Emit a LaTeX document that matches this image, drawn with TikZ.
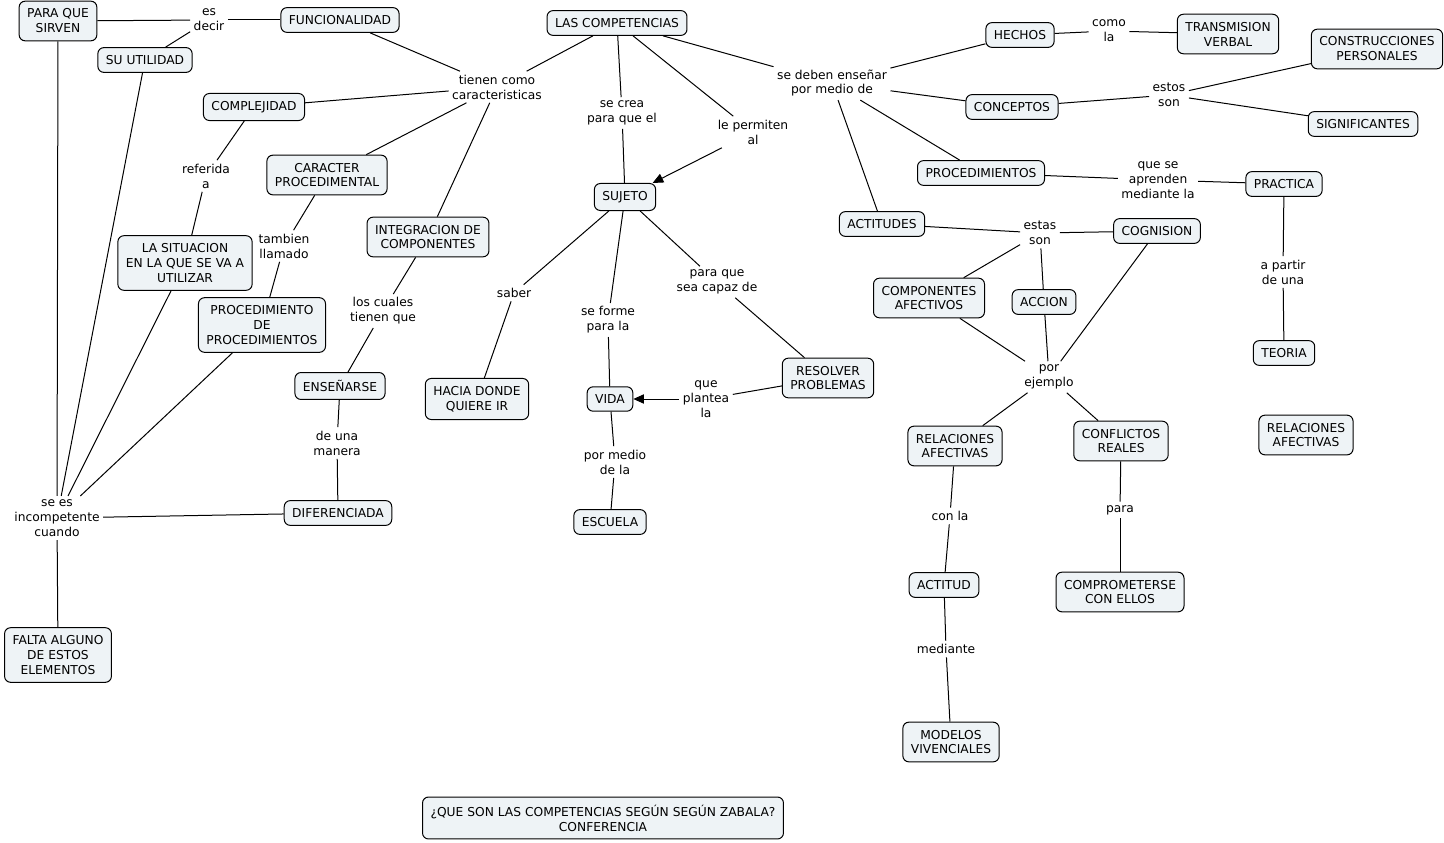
\documentclass[tikz,border=0pt]{standalone}
\usepackage{fontspec}
\setmainfont{DejaVu Sans}
\usetikzlibrary{arrows.meta,positioning}
\definecolor{boxfill}{RGB}{238,243,246}
\tikzset{%
   box/.style={draw, rounded corners=4.5pt, fill=boxfill, align=center, inner xsep=6pt, inner ysep=5.8pt, line width=.75pt},
   lbl/.style={align=center, inner sep=2.5pt},
   every edge/.style={draw, line width=.75pt},
   tip/.style={-{Triangle[length=8pt,width=7pt]}},
}
\begin{document}
\begin{tikzpicture}[x=.75pt, y=-.75pt, font=\fontsize{9.2}{11.2}\selectfont]
   \useasboundingbox (0,0) rectangle (1444,842);
   % left side
   \node[box] (sirven) at (58,21) {PARA QUE\\SIRVEN};
   \node[lbl] (esdecir) at (209,20) {es\\decir};
   \node[box] (func) at (340,20) {FUNCIONALIDAD};
   \node[box] (util) at (145,60) {SU UTILIDAD};
   \node[box] (comp) at (617,23) {LAS COMPETENCIAS};
   \node[lbl] (tienen) at (497,87) {tienen como\\caracteristicas};
   \node[box] (complej) at (254,107) {COMPLEJIDAD};
   \node[box] (caract) at (327,175) {CARACTER\\PROCEDIMENTAL};
   \node[box] (integ) at (428,237) {INTEGRACION DE\\COMPONENTES};
   \node[lbl] (referida) at (206,176) {referida\\a};
   \node[box] (situ) at (185,263) {LA SITUACION\\EN LA QUE SE VA A\\UTILIZAR};
   \node[lbl] (tambien) at (284,246) {tambien\\llamado};
   \node[box] (proc) at (262,325) {PROCEDIMIENTO\\DE\\PROCEDIMIENTOS};
   \node[lbl] (cuales) at (383,311) {los cuales\\tienen que};
   \node[box] (ensen) at (340,386) {ENSEÑARSE};
   \node[lbl] (unamanera) at (337,443) {de una\\manera};
   \node[box] (difer) at (338,513) {DIFERENCIADA};
   \node[lbl] (incomp) at (57,518) {se es\\incompetente\\cuando};
   \node[box] (falta) at (58,655) {FALTA ALGUNO\\DE ESTOS\\ELEMENTOS};
   % centre
   \node[lbl] (secrea) at (622,113) {se crea\\para que el};
   \node[lbl] (permiten) at (753,132) {le permiten\\al};
   \node[box] (sujeto) at (625,197) {SUJETO};
   \node[lbl] (saber) at (514,293) {saber};
   \node[box] (hacia) at (477,399) {HACIA DONDE\\QUIERE IR};
   \node[lbl] (seforme) at (608,320) {se forme\\para la};
   \node[lbl] (capaz) at (717,282) {para que\\sea capaz de};
   \node[box] (vida) at (610,399) {VIDA};
   \node[box] (resolver) at (828,378) {RESOLVER\\PROBLEMAS};
   \node[lbl] (plantea) at (706,399) {que\\plantea\\la};
   \node[lbl] (pormedio) at (615,462) {por medio\\de la};
   \node[box] (escuela) at (610,522) {ESCUELA};
   \node[box] (zabala) at (603,818) {¿QUE SON LAS COMPETENCIAS SEGÚN SEGÚN ZABALA?\\CONFERENCIA};
   % right side
   \node[lbl] (deben) at (832,83) {se deben enseñar\\por medio de};
   \node[box] (hechos) at (1020,35) {HECHOS};
   \node[lbl] (comola) at (1109,31) {como\\la};
   \node[box] (transm) at (1228,34) {TRANSMISION\\VERBAL};
   \node[box] (concep) at (1012,107) {CONCEPTOS};
   \node[lbl] (estos) at (1169,95) {estos\\son};
   \node[box] (constr) at (1377,49) {CONSTRUCCIONES\\PERSONALES};
   \node[box] (signif) at (1363,124) {SIGNIFICANTES};
   \node[box] (procs) at (981,173) {PROCEDIMIENTOS};
   \node[lbl] (aprenden) at (1158,180) {que se\\aprenden\\mediante la};
   \node[box] (practica) at (1284,184) {PRACTICA};
   \node[lbl] (apartir) at (1283,272) {a partir\\de una};
   \node[box] (teoria) at (1284,353) {TEORIA};
   \node[box] (actitudes) at (882,224) {ACTITUDES};
   \node[lbl] (estas) at (1040,233) {estas\\son};
   \node[box] (cognis) at (1157,231) {COGNISION};
   \node[box] (compaf) at (929,298) {COMPONENTES\\AFECTIVOS};
   \node[box] (accion) at (1044,302) {ACCION};
   \node[lbl] (ejemplo) at (1049,377) {por\\ejemplo};
   \node[box] (relaf) at (955,446) {RELACIONES\\AFECTIVAS};
   \node[box] (conflic) at (1121,441) {CONFLICTOS\\REALES};
   \node[box] (relaf2) at (1306,435) {RELACIONES\\AFECTIVAS};
   \node[lbl] (conla) at (950,516) {con la};
   \node[box] (actitud) at (944,585) {ACTITUD};
   \node[lbl] (mediante) at (946,649) {mediante};
   \node[box] (modelos) at (951,742) {MODELOS\\VIVENCIALES};
   \node[lbl] (para) at (1120,510) {para};
   \node[box] (comprom) at (1120,592) {COMPROMETERSE\\CON ELLOS};
   % links
   \path (sirven) edge (esdecir) (esdecir) edge (func) (esdecir) edge (util);
   \path (func) edge (tienen) (comp) edge (tienen);
   \path (tienen) edge (complej) (tienen) edge (caract) (tienen) edge (integ);
   \path (complej) edge (referida) (referida) edge (situ);
   \path (caract) edge (tambien) (tambien) edge (proc);
   \path (integ) edge (cuales) (cuales) edge (ensen);
   \path (ensen) edge (unamanera) (unamanera) edge (difer);
   \path (sirven) edge (incomp) (util) edge (incomp) (situ) edge (incomp)
         (proc) edge (incomp) (difer) edge (incomp);
   \path (incomp) edge (falta);
   \path (comp) edge (secrea) (secrea) edge (sujeto);
   \path (comp) edge (permiten) (permiten) edge[tip] (sujeto);
   \path (sujeto) edge (saber) (saber) edge (hacia);
   \path (sujeto) edge (seforme) (seforme) edge (vida);
   \path (sujeto) edge (capaz) (capaz) edge (resolver);
   \path (resolver) edge (plantea) (plantea) edge[tip] (vida);
   \path (vida) edge (pormedio) (pormedio) edge (escuela);
   \path (comp) edge (deben);
   \path (deben) edge (hechos) (deben) edge (concep) (deben) edge (procs) (deben) edge (actitudes);
   \path (hechos) edge (comola) (comola) edge (transm);
   \path (concep) edge (estos) (estos) edge (constr) (estos) edge (signif);
   \path (procs) edge (aprenden) (aprenden) edge (practica);
   \path (practica) edge (apartir) (apartir) edge (teoria);
   \path (actitudes) edge (estas) (estas) edge (cognis) (estas) edge (compaf) (estas) edge (accion);
   \path (compaf) edge (ejemplo) (accion) edge (ejemplo) (cognis) edge (ejemplo);
   \path (ejemplo) edge (relaf) (ejemplo) edge (conflic);
   \path (relaf) edge (conla) (conla) edge (actitud);
   \path (actitud) edge (mediante) (mediante) edge (modelos);
   \path (conflic) edge (para) (para) edge (comprom);
\end{tikzpicture}
\end{document}
